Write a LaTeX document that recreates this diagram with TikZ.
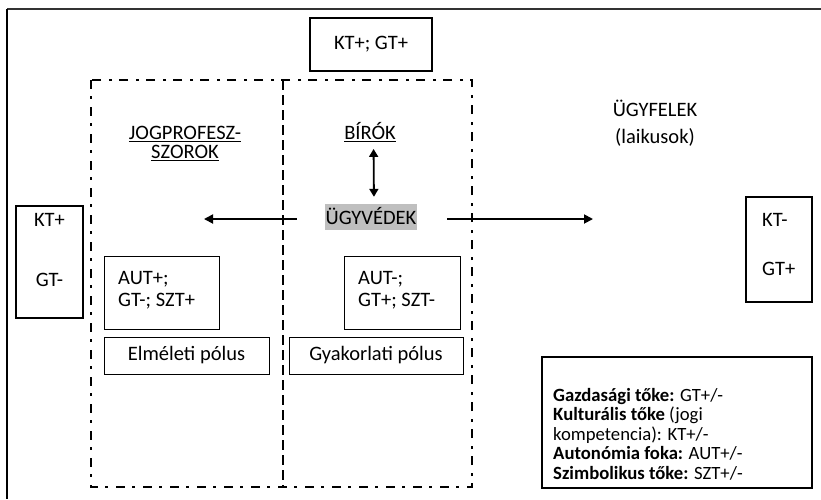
\documentclass[tikz,border=0pt]{standalone}
\usepackage{fontspec}
\setmainfont{Carlito}
\usetikzlibrary{arrows.meta}
\newcommand{\mfs}{\fontsize{20.5}{22}\selectfont}
\newcommand{\lfs}{\fontsize{18.7}{19.6}\selectfont}
\begin{document}
\begin{tikzpicture}[x=1pt,y=-1pt,
  box/.style={draw, line width=1pt, inner sep=0pt, font=\mfs},
  thickbox/.style={draw, line width=1.6pt, inner sep=0pt, font=\mfs},
  lbl/.style={font=\mfs, inner sep=0pt, anchor=base},
  lblw/.style={font=\mfs, inner sep=0pt, anchor=base west},
  leg/.style={font=\lfs, inner sep=0pt, anchor=base west},
  arr/.style={line width=1.8pt, -{Triangle[length=9pt,width=9pt]}},
  darr/.style={line width=1.8pt, {Triangle[length=8pt,width=9pt]}-{Triangle[length=8pt,width=9pt]}},
  dashdot/.style={line width=2.2pt, dash pattern=on 9pt off 7pt on 3pt off 8pt},
  midline/.style={line width=1.3pt, dash pattern=on 10pt off 5pt}]
\useasboundingbox (0,0) rectangle (821,499);
% outer frame (top and left only)
\draw[line width=2pt, black!80] (7,9) -- (821,9);
\draw[line width=1.4pt] (7,9) -- (7,499);
% dash-dot field
\draw[dashdot] (91,80) rectangle (472,487);
\draw[midline] (283,80) -- (283,487);
% top box
\node[thickbox, minimum width=122pt, minimum height=53pt] (top) at (371,44.5) {KT+; GT+};
% left box
\node[thickbox, minimum width=67pt, minimum height=112pt] (lb) at (49.5,262) {};
\node[lbl] (lb1) at (49.5,226.6) {KT+};
\node[lbl] (lb2) at (49.5,286.6) {GT-};
% right box
\node[thickbox, minimum width=66pt, minimum height=105pt] (rb) at (779,249.5) {};
\node[lblw] (rb1) at (762,226.6) {KT-};
\node[lblw] (rb2) at (762,275) {GT+};
% labels
\node[lbl] (jp1) at (185,139.6) {\underline{JOGPROFESZ-}};
\node[lbl] (jp2) at (185,158.6) {\underline{SZOROK}};
\node[lbl] (biro) at (370,139.6) {\underline{BÍRÓK}};
\node[font=\mfs, fill=black!25, inner xsep=0.5pt, inner ysep=2pt, text height=18pt, text depth=4pt, anchor=base] (ugy) at (371,224) {ÜGYVÉDEK};
\node[lbl] (ugyf1) at (655,116.6) {ÜGYFELEK};
\node[lbl] (ugyf2) at (655,143.6) {(laikusok)};
% arrows
\coordinate (la) at (204,219);
\coordinate (ra) at (593,219);
\draw[darr, shorten <=7pt, shorten >=7pt] ([xshift=3.5pt]biro.south) -- ([xshift=3pt]ugy.north);
\draw[arr] ([xshift=-28pt,yshift=-2pt]ugy.west) -- (la);
\draw[arr] ([xshift=30pt,yshift=-2pt]ugy.east) -- (ra);
% pole boxes
\node[box, minimum width=115pt, minimum height=73pt] (ap) at (161.5,292.5) {};
\node[lblw] (ap1) at (118,284) {AUT+;};
\node[lblw] (ap2) at (118,306) {GT-; SZT+};
\node[box, minimum width=165pt, minimum height=37pt] (ep) at (186.5,355.5) {Elméleti pólus};
\node[box, minimum width=116pt, minimum height=73pt] (am) at (402,292.5) {};
\node[lblw] (am1) at (358,284) {AUT-;};
\node[lblw] (am2) at (358,306) {GT+; SZT-};
\node[box, minimum width=174pt, minimum height=37pt] (gp) at (376,355.5) {Gyakorlati pólus};
% legend
\node[draw, line width=1.3pt, minimum width=270pt, minimum height=131pt, inner sep=0pt] (leg) at (677,422.5) {};
\node[leg] (l1) at (553,401) {\textbf{Gazdasági tőke:} GT+/-};
\node[leg] (l2) at (553,420.6) {\textbf{Kulturális tőke} (jogi};
\node[leg] (l3) at (553,440.2) {kompetencia): KT+/-};
\node[leg] (l4) at (553,459.8) {\textbf{Autonómia foka:} AUT+/-};
\node[leg] (l5) at (553,479.4) {\textbf{Szimbolikus tőke:} SZT+/-};
\end{tikzpicture}
\end{document}
